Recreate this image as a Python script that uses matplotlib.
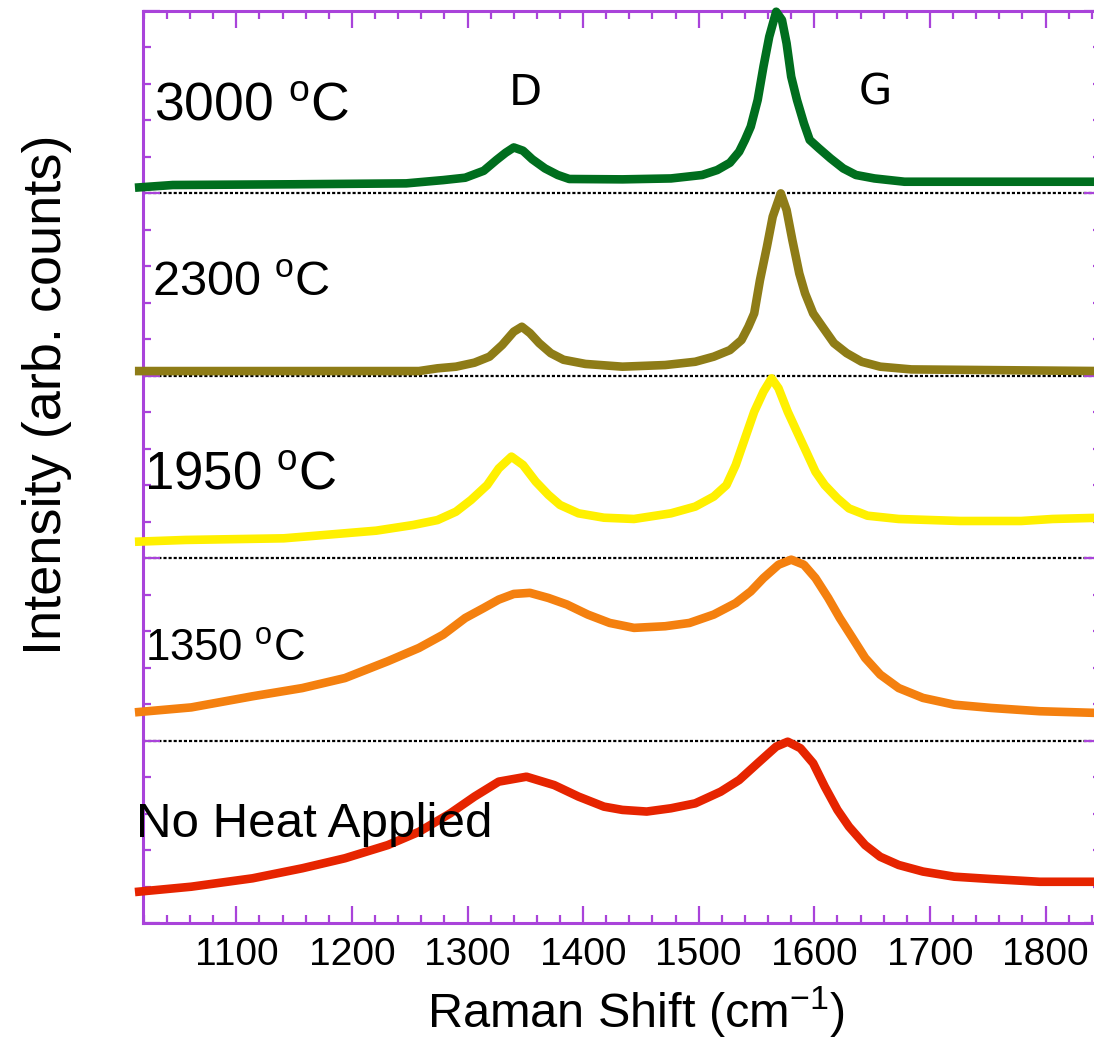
import matplotlib
matplotlib.use('Agg')
import matplotlib.pyplot as plt
from matplotlib.ticker import MultipleLocator

plt.rcParams['font.family'] = ['Liberation Sans', 'DejaVu Sans']
plt.rcParams['mathtext.fontset'] = 'custom'
plt.rcParams['mathtext.rm'] = 'Liberation Sans'
plt.rcParams['mathtext.it'] = 'Liberation Sans:italic'
plt.rcParams['mathtext.bf'] = 'Liberation Sans:bold'

# ---------------- data ----------------
labels = ["No Heat Applied", "1350 $^{\\mathrm{o}}$C", "1950 $^{\\mathrm{o}}$C",
          "2300 $^{\\mathrm{o}}$C", "3000 $^{\\mathrm{o}}$C"]

x_noheat = [1016, 1061, 1114, 1157, 1194, 1231, 1258, 1285, 1306, 1327, 1351, 1375,
            1396, 1418, 1434, 1455, 1476, 1497, 1519, 1535, 1551, 1567, 1577, 1588,
            1599, 1609, 1620, 1630, 1644, 1657, 1673, 1694, 1721, 1753, 1795, 1848]
y_noheat = [0.172, 0.199, 0.245, 0.300, 0.355, 0.427, 0.500, 0.601, 0.693, 0.775, 0.802, 0.756,
            0.693, 0.638, 0.620, 0.611, 0.629, 0.656, 0.720, 0.784, 0.876, 0.967, 0.994, 0.958,
            0.876, 0.748, 0.620, 0.528, 0.427, 0.363, 0.318, 0.282, 0.254, 0.241, 0.226, 0.226]

x_1350 = [1016, 1061, 1114, 1157, 1194, 1231, 1258, 1279, 1298, 1314, 1327, 1340, 1354,
          1370, 1386, 1404, 1423, 1444, 1471, 1492, 1513, 1532, 1545, 1556, 1569, 1580,
          1591, 1601, 1612, 1622, 1633, 1644, 1657, 1673, 1694, 1721, 1753, 1795, 1848]
y_1350 = [0.157, 0.182, 0.243, 0.288, 0.343, 0.435, 0.508, 0.581, 0.672, 0.727, 0.773, 0.804, 0.810,
          0.782, 0.746, 0.691, 0.645, 0.618, 0.627, 0.645, 0.691, 0.754, 0.818, 0.891, 0.964, 0.992,
          0.964, 0.891, 0.782, 0.672, 0.563, 0.453, 0.362, 0.288, 0.234, 0.197, 0.179, 0.161, 0.151]

x_1950 = [1016, 1056, 1141, 1168, 1221, 1253, 1274, 1290, 1303, 1317, 1327, 1338, 1348, 1359,
          1370, 1380, 1396, 1418, 1444, 1476, 1497, 1513, 1524, 1532, 1540, 1548, 1556, 1563,
          1569, 1577, 1585, 1593, 1601, 1609, 1620, 1630, 1646, 1673, 1726, 1779, 1806, 1848]
y_1950 = [0.091, 0.100, 0.109, 0.123, 0.151, 0.182, 0.209, 0.255, 0.319, 0.401, 0.492, 0.557, 0.511, 0.420,
          0.347, 0.292, 0.246, 0.222, 0.215, 0.246, 0.283, 0.338, 0.401, 0.511, 0.657, 0.803, 0.913, 0.986,
          0.932, 0.803, 0.693, 0.584, 0.474, 0.401, 0.328, 0.273, 0.233, 0.215, 0.204, 0.204, 0.215, 0.222]

x_2300 = [1016, 1258, 1274, 1290, 1306, 1319, 1330, 1340, 1347, 1354, 1362, 1372, 1383,
          1402, 1434, 1471, 1497, 1513, 1527, 1537, 1543, 1548, 1553, 1559, 1564, 1571,
          1576, 1581, 1587, 1592, 1599, 1607, 1617, 1628, 1641, 1657, 1684, 1848]
y_2300 = [0.026, 0.026, 0.041, 0.050, 0.072, 0.105, 0.169, 0.242, 0.269, 0.234, 0.179, 0.124, 0.088,
          0.065, 0.050, 0.059, 0.077, 0.105, 0.141, 0.196, 0.269, 0.342, 0.525, 0.708, 0.872, 1.000,
          0.909, 0.744, 0.561, 0.452, 0.342, 0.269, 0.179, 0.124, 0.077, 0.050, 0.035, 0.026]

x_3000 = [1016, 1045, 1150, 1247, 1279, 1298, 1314, 1325, 1333, 1340, 1348, 1356, 1367, 1378,
          1388, 1434, 1476, 1503, 1516, 1527, 1535, 1540, 1545, 1551, 1556, 1561, 1567, 1572,
          1576, 1580, 1585, 1591, 1596, 1604, 1614, 1625, 1636, 1652, 1678, 1753, 1848]
y_3000 = [0.033, 0.046, 0.050, 0.055, 0.073, 0.086, 0.124, 0.183, 0.223, 0.252, 0.234, 0.187, 0.137, 0.101,
          0.079, 0.077, 0.082, 0.101, 0.128, 0.168, 0.229, 0.293, 0.366, 0.512, 0.695, 0.859, 0.996, 0.951,
          0.823, 0.640, 0.512, 0.384, 0.293, 0.247, 0.192, 0.137, 0.101, 0.082, 0.064, 0.064, 0.064]

xs = [x_noheat, x_1350, x_1950, x_2300, x_3000]
ys = [y_noheat, y_1350, y_1950, y_2300, y_3000]
colors = ['#E62400', '#F4800F', '#FFF000', '#8E7C17', '#006E1E']
offsets = [0, 1, 2, 3, 4]

peak_names = ["D", "G"]
peak_pos = [1350, 1653]

xticks = [1100, 1200, 1300, 1400, 1500, 1600, 1700, 1800]

# ---------------- figure ----------------
W, H = 1094, 1041
fig = plt.figure(figsize=(W / 100, H / 100), dpi=100)
ax = fig.add_axes([142.7 / W, (H - 923) / H, 958.3 / W, 912 / H])

purple = '#A943DA'

for b in offsets[1:]:
    ax.axhline(b, color='black', lw=1.6, ls=(0, (1.4, 0.9)), zorder=1.5)

for x, y, c, off in zip(xs, ys, colors, offsets):
    ax.plot(x, [v + off for v in y], color=c, lw=6.2, solid_joinstyle='round',
            clip_on=False, zorder=3)

ax.set_xlim(1019, 1848)
ax.set_ylim(0, 5)

ax.xaxis.set_major_locator(MultipleLocator(100))
ax.xaxis.set_minor_locator(MultipleLocator(20))
ax.yaxis.set_major_locator(MultipleLocator(1))
ax.yaxis.set_minor_locator(MultipleLocator(0.2))
ax.set_xticks(xticks)
ax.set_xticklabels([str(t) for t in xticks])

ax.tick_params(which='both', direction='in', top=True, right=True,
               color=purple, width=1.6, labelleft=False)
ax.tick_params(which='major', length=12)
ax.tick_params(which='minor', length=6)
ax.tick_params(axis='x', labelsize=28, pad=10)

for s in ax.spines.values():
    s.set_color(purple)
    s.set_linewidth(2.2)

ax.set_xlabel("Raman Shift (cm$^{\\mathrm{-1}}$)", fontsize=35, va='baseline')
ax.xaxis.set_label_coords(0.515, -0.1155)
ax.set_ylabel("Intensity (arb. counts)", fontsize=39)
ax.yaxis.set_label_coords(-0.0736, 0.579)

# sample labels
lab_x = [1013, 1021, 1020, 1027, 1029]
lab_y = [0.471, 1.436, 2.374, 3.44, 4.40]
lab_fs = [35.5, 31.5, 38, 35, 38.5]
for t, lx, ly, fs in zip(labels, lab_x, lab_y, lab_fs):
    ax.text(lx, ly, t, fontsize=fs, ha='left', va='baseline', zorder=4)

for n, p in zip(peak_names, peak_pos):
    ax.text(p, 4.485, n, fontsize=31, ha='center', va='baseline',
            family='DejaVu Sans', zorder=4)

fig.savefig('out.png', dpi=100)
